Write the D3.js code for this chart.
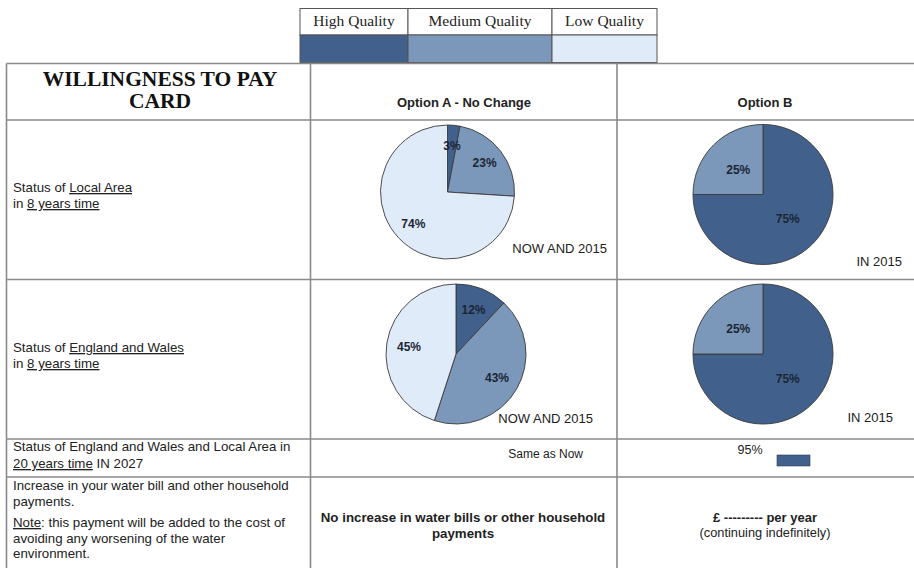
<!DOCTYPE html>
<html>
<head>
<meta charset="utf-8">
<script src="https://cdn.jsdelivr.net/npm/d3@7"></script>
<style>
  body { margin: 0; background: #fff; }
  svg text { font-family: "Liberation Sans", Arial, sans-serif; fill: #222; }
  .serif { font-family: "Liberation Serif", "Times New Roman", serif; }
  .u { text-decoration: underline; }
</style>
</head>
<body>
<div id="chart"></div>
<script>
//Datos
const categories = ['High Quality', 'Medium Quality', 'Low Quality'];
const localOptionA = [3, 23, 74];
const localOptionB = [75, 25, 0];
const englandOptionA = [12, 43, 45];
const englandOptionB = [75, 25, 0];
const future2027 = 95;

//Colores fijos
const COLOR_HIGH = '#41618c',
  COLOR_MEDIUM = '#7b98ba',
  COLOR_LOW = '#e0ebfa',
  COLOR_LINE = '#8a8a8a';

const width = 914, height = 568;

let svg = d3.select('#chart')
  .append('svg')
    .attr('width', width)
    .attr('height', height);

let color = d3.scaleOrdinal()
  .domain(categories)
  .range([COLOR_HIGH, COLOR_MEDIUM, COLOR_LOW]);

//Leyenda (tabla superior)
let legendEdges = [300, 408, 552, 657];
let legend = svg.append('g');
categories.forEach(function(c, i) {
  let x0 = legendEdges[i], x1 = legendEdges[i + 1];
  legend.append('rect')
    .attr('x', x0).attr('y', 8.5)
    .attr('width', x1 - x0).attr('height', 26.5)
    .attr('fill', '#fff').attr('stroke', '#555');
  legend.append('rect')
    .attr('x', x0).attr('y', 35)
    .attr('width', x1 - x0).attr('height', 27.5)
    .attr('fill', color(c)).attr('stroke', '#555');
  legend.append('text')
    .attr('class', 'serif')
    .attr('x', (x0 + x1) / 2).attr('y', 26)
    .attr('text-anchor', 'middle')
    .style('font-size', '15.5px')
    .text(c);
});

//Rejilla de la tabla
let cols = [6.5, 310.5, 617];
let rows = [63.5, 120, 279.5, 439, 477];
let grid = svg.append('g').attr('stroke', COLOR_LINE).attr('stroke-width', 1.6);
rows.forEach(function(y) {
  grid.append('line').attr('x1', cols[0]).attr('x2', width).attr('y1', y).attr('y2', y);
});
cols.forEach(function(x) {
  grid.append('line').attr('x1', x).attr('x2', x).attr('y1', rows[0]).attr('y2', height);
});

//Cabeceras
svg.append('text').attr('class', 'serif')
  .attr('x', 160).attr('y', 86).attr('text-anchor', 'middle')
  .style('font-size', '21.5px').style('font-weight', 'bold').style('fill', '#111')
  .text('WILLINGNESS TO PAY');
svg.append('text').attr('class', 'serif')
  .attr('x', 160).attr('y', 108).attr('text-anchor', 'middle')
  .style('font-size', '21.5px').style('font-weight', 'bold').style('fill', '#111')
  .text('CARD');
svg.append('text')
  .attr('x', 464).attr('y', 107).attr('text-anchor', 'middle')
  .style('font-size', '13px').style('font-weight', 'bold')
  .text('Option A - No Change');
svg.append('text')
  .attr('x', 765).attr('y', 107).attr('text-anchor', 'middle')
  .style('font-size', '13px').style('font-weight', 'bold')
  .text('Option B');

//Etiquetas de fila (texto con partes subrayadas)
function richLine(x, y, parts) {
  let t = svg.append('text')
    .attr('x', x).attr('y', y)
    .style('font-size', '13.3px');
  parts.forEach(function(p) {
    t.append('tspan')
      .attr('class', p.u ? 'u' : null)
      .attr('xml:space', 'preserve')
      .text(p.t);
  });
  return t;
}

richLine(13, 192, [{t: 'Status of '}, {t: 'Local Area', u: true}]);
richLine(13, 208, [{t: 'in '}, {t: '8 years time', u: true}]);
richLine(13, 352, [{t: 'Status of '}, {t: 'England and Wales', u: true}]);
richLine(13, 368, [{t: 'in '}, {t: '8 years time', u: true}]);
richLine(13, 451, [{t: 'Status of England and Wales and Local Area in'}]);
richLine(13, 468, [{t: '20 years time', u: true}, {t: ' IN 2027'}]);
richLine(13, 490, [{t: 'Increase in your water bill and other household'}]);
richLine(13, 506, [{t: 'payments.'}]);
richLine(13, 527, [{t: 'Note', u: true}, {t: ': this payment will be added to the cost of'}]);
richLine(13, 543, [{t: 'avoiding any worsening of the water'}]);
richLine(13, 558, [{t: 'environment.'}]);

//Tartas
let pie = d3.pie().sort(null).value(function(d) { return d.value; });

let panels = [
  {values: localOptionA, cx: 447.5, cy: 192, r: 67, labelR: 0.7, note: 'NOW AND 2015', nx: 607, ny: 253},
  {values: localOptionB, cx: 763, cy: 194.5, r: 70, labelR: 0.5, note: 'IN 2015', nx: 902, ny: 266},
  {values: englandOptionA, cx: 456, cy: 354, r: 70, labelR: 0.68, note: 'NOW AND 2015', nx: 593, ny: 423},
  {values: englandOptionB, cx: 763, cy: 354, r: 70, labelR: 0.5, note: 'IN 2015', nx: 893, ny: 422}
];

panels.forEach(function(p) {
  let data = categories.map(function(c, i) { return {name: c, value: p.values[i]}; });
  let arcs = pie(data).filter(function(d) { return d.data.value > 0; });
  let arc = d3.arc().innerRadius(0).outerRadius(p.r);
  let labelArc = d3.arc().innerRadius(p.r * p.labelR).outerRadius(p.r * p.labelR);

  let g = svg.append('g').attr('transform', 'translate(' + p.cx + ',' + p.cy + ')');
  g.selectAll('path')
    .data(arcs)
    .enter()
    .append('path')
      .attr('d', arc)
      .attr('fill', function(d) { return color(d.data.name); })
      .attr('stroke', '#3a3a3a')
      .attr('stroke-width', 0.9);

  g.selectAll('.lbl')
    .data(arcs)
    .enter()
    .append('text')
      .attr('class', 'lbl')
      .attr('transform', function(d) { return 'translate(' + labelArc.centroid(d) + ')'; })
      .attr('text-anchor', 'middle')
      .attr('dy', '0.35em')
      .style('font-size', '12px')
      .style('font-weight', 'bold')
      .style('fill', '#1c2533')
      .text(function(d) { return d.data.value + '%'; });

  svg.append('text')
    .attr('x', p.nx).attr('y', p.ny)
    .attr('text-anchor', 'end')
    .style('font-size', '13px')
    .text(p.note);
});

//Fila 2027
svg.append('text')
  .attr('x', 583).attr('y', 458).attr('text-anchor', 'end')
  .style('font-size', '12px')
  .text('Same as Now');
svg.append('text')
  .attr('x', 750).attr('y', 454).attr('text-anchor', 'middle')
  .style('font-size', '12.5px')
  .text(future2027 + '%');
svg.append('rect')
  .attr('x', 777).attr('y', 455)
  .attr('width', 33).attr('height', 11)
  .attr('fill', color(categories[0]))
  .attr('stroke', '#2c3e58').attr('stroke-width', 0.6);

//Fila de pago
svg.append('text')
  .attr('x', 463).attr('y', 522).attr('text-anchor', 'middle')
  .style('font-size', '13.3px').style('font-weight', 'bold')
  .text('No increase in water bills or other household');
svg.append('text')
  .attr('x', 463).attr('y', 538).attr('text-anchor', 'middle')
  .style('font-size', '13.3px').style('font-weight', 'bold')
  .text('payments');
svg.append('text')
  .attr('x', 765).attr('y', 522).attr('text-anchor', 'middle')
  .style('font-size', '13px').style('font-weight', 'bold')
  .text('£ --------- per year');
svg.append('text')
  .attr('x', 765).attr('y', 537).attr('text-anchor', 'middle')
  .style('font-size', '12.8px')
  .text('(continuing indefinitely)');
</script>
</body>
</html>
